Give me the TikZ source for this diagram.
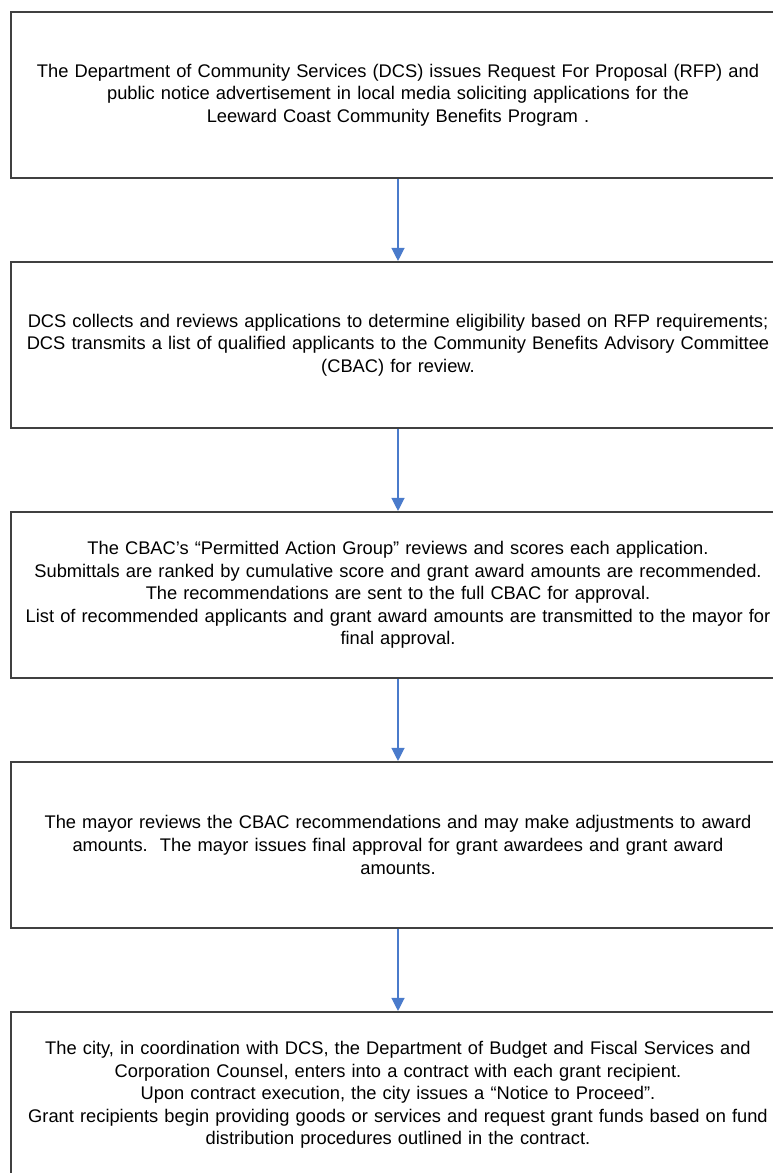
\documentclass[tikz,border=0pt]{standalone}
\usepackage{fontspec}
\setmainfont{Liberation Sans}
\usetikzlibrary{arrows.meta}
\definecolor{boxline}{HTML}{404040}
\definecolor{arrowblue}{HTML}{4A7BCB}
\begin{document}
\begin{tikzpicture}[x=1pt,y=-1pt,
  stepbox/.style={draw=boxline,line width=1.6pt,minimum width=774pt,minimum height=166.5pt,inner sep=0pt,
    align=center,font=\fontsize{18.3}{22.6}\selectfont,text width=770pt},
  flow/.style={draw=arrowblue,line width=1.2pt,-{Triangle[length=13pt,width=13pt]}}]
\useasboundingbox (0,0) rectangle (773,1173);
\clip (0,0) rectangle (773,1173);
\fill[white] (0,0) rectangle (773,1173);
\node[stepbox] (b1) at (398,95) {The Department of Community Services (DCS) issues Request For Proposal (RFP) and\\public notice advertisement in local media soliciting applications for the\\Leeward Coast Community Benefits Program .};
\node[stepbox] (b2) at (398,345) {DCS collects and reviews applications to determine eligibility based on RFP requirements;\\DCS transmits a list of qualified applicants to the Community Benefits Advisory Committee\\(CBAC) for review.};
\node[stepbox] (b3) at (398,595) {The CBAC’s “Permitted Action Group” reviews and scores each application.\\Submittals are ranked by cumulative score and grant award amounts are recommended.\\The recommendations are sent to the full CBAC for approval.\\List of recommended applicants and grant award amounts are transmitted to the mayor for\\final approval.};
\node[stepbox] (b4) at (398,845) {The mayor reviews the CBAC recommendations and may make adjustments to award\\amounts.\ \ The mayor issues final approval for grant awardees and grant award\\amounts.};
\node[stepbox] (b5) at (398,1095) {The city, in coordination with DCS, the Department of Budget and Fiscal Services and\\Corporation Counsel, enters into a contract with each grant recipient.\\Upon contract execution, the city issues a “Notice to Proceed”.\\Grant recipients begin providing goods or services and request grant funds based on fund\\distribution procedures outlined in the contract.};
\draw[flow] (b1.south) -- (b2.north);
\draw[flow] (b2.south) -- (b3.north);
\draw[flow] (b3.south) -- (b4.north);
\draw[flow] (b4.south) -- (b5.north);
\end{tikzpicture}
\end{document}
